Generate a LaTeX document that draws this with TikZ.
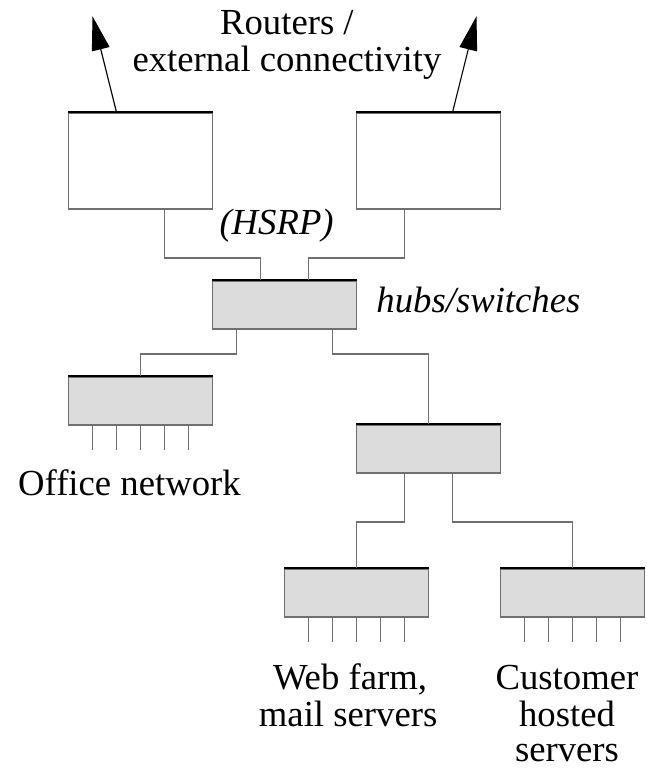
\documentclass[tikz,border=0pt]{standalone}
\usepackage{fontspec}
\setmainfont{Liberation Serif}
\usetikzlibrary{arrows.meta,calc}
\definecolor{boxfill}{HTML}{DCDCDC}
\definecolor{edgegray}{HTML}{707070}
\tikzset{
  devbox/.style={draw=edgegray, line width=1.5pt, rectangle, minimum width=144pt, inner sep=0pt},
  router/.style={devbox, fill=white, minimum height=96pt},
  switchbox/.style={devbox, fill=boxfill, minimum height=48pt},
  topedge/.style={draw=black, line width=1.8pt},
  wire/.style={draw=edgegray, line width=1.5pt},
  port/.style={draw=edgegray, line width=1.5pt},
  uplink/.style={draw=black, line width=1.1pt, -{Triangle[length=34pt,width=18pt]}},
  lbl/.style={inner sep=0pt, anchor=base, font=\fontsize{36.7pt}{44pt}\selectfont},
  ilbl/.style={lbl, font=\fontsize{36.7pt}{44pt}\selectfont\itshape}
}
\begin{document}
\begin{tikzpicture}[x=24pt, y=-24pt]
\useasboundingbox (-0.8542,-0.7083) rectangle (26.0625,31.5);
% devices
\node[router] (r1) at (5,6) {};
\node[router] (r2) at (17,6) {};
\node[switchbox] (hub) at (11,12) {};
\node[switchbox] (off) at (5,16) {};
\node[switchbox] (mid) at (17,18) {};
\node[switchbox] (web) at (14,24) {};
\node[switchbox] (cust) at (23,24) {};
% darker top edges
\foreach \n in {r1,r2,hub,off,mid,web,cust}
  \draw[topedge] (\n.north west) -- (\n.north east);
% uplinks
\draw[uplink] ([xshift=-24pt]r1.north) -- ++(-1,-4);
\draw[uplink] ([xshift=24pt]r2.north) -- ++(1,-4);
% wires
\draw[wire] ([xshift=24pt]r1.south) -- ++(0,2) -| ([xshift=-24pt]hub.north);
\draw[wire] ([xshift=-24pt]r2.south) -- ++(0,2) -| ([xshift=24pt]hub.north);
\draw[wire] ([xshift=-48pt]hub.south) -- ++(0,1) -| (off.north);
\draw[wire] ([xshift=48pt]hub.south) -- ++(0,1) -| (mid.north);
\draw[wire] ([xshift=-24pt]mid.south) -- ++(0,2) -| (web.north);
\draw[wire] ([xshift=24pt]mid.south) -- ++(0,2) -| (cust.north);
% ports
\foreach \n in {off,web,cust}
  \foreach \i in {-2,...,2}
    \draw[port] ([xshift=\i*24pt]\n.south) -- ++(0,1);
% labels
\node[lbl] (t1) at (11.10,0.75) {Routers /};
\node[lbl] (t2) at (11.10,2.29) {external connectivity};
\node[ilbl] (hsrp) at (10.67,9.08) {(HSRP)};
\node[ilbl] (hubs) at (19.08,12.33) {hubs/switches};
\node[lbl] (offl) at (4.54,19.92) {Office network};
\node[lbl] (w1) at (13.73,28.04) {Web farm,};
\node[lbl] (w2) at (13.65,29.58) {mail servers};
\node[lbl] (c1) at (22.77,28.04) {Customer};
\node[lbl] (c2) at (22.77,29.58) {hosted};
\node[lbl] (c3) at (22.77,31.04) {servers};
\end{tikzpicture}
\end{document}
